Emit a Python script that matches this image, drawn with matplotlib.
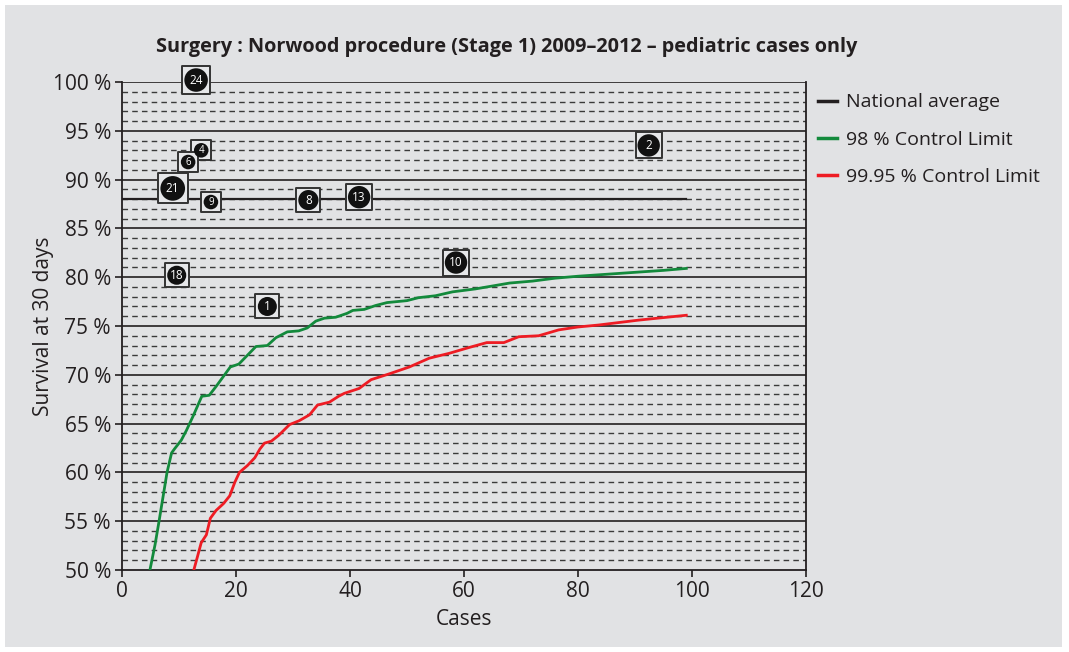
import matplotlib
matplotlib.use("Agg")
import matplotlib.pyplot as plt
from matplotlib.patches import Rectangle
from matplotlib.lines import Line2D

# ---------------- data ----------------
national_average = 88.0
national_x = [0, 99]

green_x = [4.9, 5.8, 6.5, 7.9, 8.7, 9.2, 10.4, 11.3, 12.5, 14.0, 15.3, 16.5, 18.0, 19.0, 20.5,
           22.0, 23.5, 25.5, 27.0, 29.0, 31.0, 32.5, 34.0, 35.5, 37.5, 39.5, 40.5, 42.5, 44.5,
           46.5, 50.0, 52.0, 55.0, 58.0, 62.0, 65.0, 68.0, 72.0, 76.0, 80.0, 85.0, 90.0, 95.0, 99.0]
green_y = [50.0, 52.6, 55.0, 60.0, 62.0, 62.4, 63.3, 64.3, 65.8, 67.8, 67.9, 68.8, 70.0, 70.8, 71.1,
           72.0, 72.9, 73.0, 73.8, 74.4, 74.5, 74.8, 75.5, 75.8, 75.9, 76.3, 76.6, 76.7, 77.1,
           77.4, 77.6, 77.9, 78.1, 78.5, 78.8, 79.1, 79.4, 79.6, 79.9, 80.1, 80.3, 80.5, 80.7, 80.9]

red_x = [12.6, 13.3, 13.9, 14.8, 15.5, 16.5, 17.8, 18.9, 19.8, 20.6, 22.0, 23.3, 24.2, 25.0, 26.2,
         27.5, 29.4, 31.1, 32.9, 34.3, 36.4, 38.0, 39.0, 41.6, 43.7, 46.9, 50.4, 53.9, 57.4,
         60.9, 64.0, 67.0, 69.6, 73.1, 76.6, 80.0, 83.6, 90.6, 99.0]
red_y = [50.0, 51.5, 52.8, 53.6, 55.3, 56.1, 56.8, 57.6, 59.0, 60.0, 60.7, 61.5, 62.4, 63.0, 63.2,
         63.8, 64.9, 65.3, 65.9, 66.9, 67.2, 67.8, 68.1, 68.6, 69.5, 70.1, 70.8, 71.7, 72.2,
         72.8, 73.3, 73.3, 73.9, 74.0, 74.6, 74.9, 75.1, 75.6, 76.1]

point_labels = ["24", "4", "6", "21", "9", "8", "13", "2", "18", "1", "10"]
point_x = [13.0, 13.9, 11.6, 8.9, 15.6, 32.7, 41.6, 92.4, 9.6, 25.5, 58.6]
point_y = [100.2, 93.0, 91.8, 89.1, 87.7, 87.9, 88.2, 93.5, 80.2, 77.0, 81.5]
point_size = [25, 17, 17, 26, 17, 22, 24, 24, 21, 21, 24]   # relative marker size

x_ticks = [0, 20, 40, 60, 80, 100, 120]
y_ticks = [50, 55, 60, 65, 70, 75, 80, 85, 90, 95, 100]

title = "Surgery : Norwood procedure (Stage 1) 2009\u20132012 \u2013 pediatric cases only"
legend_labels = ["National average", "98 % Control Limit", "99.95 % Control Limit"]

# ---------------- style ----------------
BG = "#e1e2e4"
DARK = "#231f20"
GREEN = "#138a3c"
RED = "#ee1c24"
plt.rcParams["font.family"] = ["Open Sans", "DejaVu Sans"]

W, H = 1069, 652
fig = plt.figure(figsize=(W / 100, H / 100), dpi=100, facecolor="white")
fig.patches.append(Rectangle((5 / W, 5 / H), 1 - 12 / W, 1 - 10 / H, transform=fig.transFigure,
                             facecolor=BG, edgecolor="none", zorder=-10))

ax = fig.add_axes([122 / W, 1 - 570 / H, (806 - 122) / W, (570 - 82) / H])
ax.patch.set_alpha(0)
ax.set_xlim(0, 120)
ax.set_ylim(50, 100)

# grid lines
for v in range(51, 100):
    if v % 5 == 0:
        ax.axhline(v, color=DARK, lw=1.2, zorder=1)
    else:
        ax.axhline(v, color="#3a3a3a", lw=1.0, ls=(0, (4, 3)), zorder=1)
ax.axhline(100, color=DARK, lw=1.2, zorder=1)

ax.plot(national_x, [national_average] * 2, color=DARK, lw=1.6, zorder=2)
ax.plot(green_x, green_y, color=GREEN, lw=2.0, zorder=3)
ax.plot(red_x, red_y, color=RED, lw=2.0, zorder=3)

for lab, x, y, s in zip(point_labels, point_x, point_y, point_size):
    box_pt = s * 0.72 * 1.12
    circ_pt = (s - 4) * 0.72 * 1.12
    ax.scatter([x], [y], marker="s", s=box_pt ** 2, facecolor="#e6e7e9",
               edgecolor="#333333", linewidths=1.4, zorder=5, clip_on=False)
    ax.scatter([x], [y], marker="o", s=circ_pt ** 2, facecolor="#111111",
               edgecolor="none", zorder=6, clip_on=False)
    ax.text(x, y, lab, color="white", ha="center", va="center",
            fontsize=8.5 if s > 20 else 7, zorder=7)

# axes styling
ax.spines["top"].set_visible(False)
for side in ["left", "bottom", "right"]:
    ax.spines[side].set_color(DARK)
    ax.spines[side].set_linewidth(1.3)

ax.set_xticks(x_ticks)
ax.set_xticklabels([str(t) for t in x_ticks])
ax.set_yticks(y_ticks)
ax.set_yticklabels([f"{t} %" for t in y_ticks])
ax.tick_params(axis="both", which="major", labelsize=15, colors=DARK, length=5, width=1.2, pad=3)

ax.set_xlabel("Cases", fontsize=15, color=DARK, labelpad=5)
ax.set_ylabel("Survival at 30 days", fontsize=15, color=DARK, labelpad=-1)

fig.text(507 / W, 1 - 47 / H, title, ha="center", va="center", fontsize=14.3,
         fontweight="bold", color=DARK)

handles = [Line2D([], [], color=DARK, lw=2.5), Line2D([], [], color=GREEN, lw=2.5),
           Line2D([], [], color=RED, lw=2.5)]
fig.legend(handles, legend_labels, loc="upper left", bbox_to_anchor=(800 / W, 1 - 76 / H),
           frameon=False, fontsize=14, handlelength=1.0, handletextpad=0.45,
           labelspacing=0.98, labelcolor=DARK)

fig.savefig("out.png", dpi=100, facecolor="white")
